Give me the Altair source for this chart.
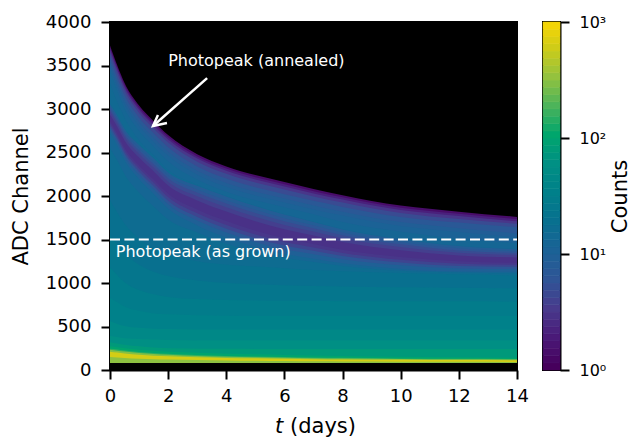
import altair as alt
import pandas as pd

T = [0, 0.25, 0.5, 1, 1.5, 2, 3, 4, 5, 6, 7, 8, 10, 12, 14]

# Channel at which each colour band begins, top of the picture downward, per time in T.
BANDS = [
    (1.3, [3730, 3500, 3300, 3040, 2860, 2700, 2480, 2340, 2240, 2160, 2080, 2010, 1890, 1820, 1760]),
    (2.0, [3705, 3475, 3275, 3015, 2835, 2675, 2455, 2315, 2215, 2135, 2055, 1985, 1865, 1795, 1735]),
    (3.0, [3680, 3450, 3250, 2990, 2810, 2650, 2430, 2290, 2190, 2110, 2030, 1960, 1840, 1770, 1710]),
    (4.5, [3645, 3415, 3215, 2955, 2775, 2615, 2395, 2255, 2155, 2075, 1995, 1925, 1805, 1735, 1680]),
    (6.5, [3590, 3360, 3160, 2900, 2720, 2560, 2340, 2200, 2100, 2020, 1945, 1875, 1760, 1695, 1640]),
    (8.5, [3540, 3310, 3110, 2850, 2670, 2510, 2290, 2150, 2050, 1970, 1890, 1820, 1700, 1630, 1570]),
    (10.0, [3495, 3265, 3065, 2805, 2625, 2465, 2245, 2105, 2005, 1925, 1845, 1775, 1655, 1585, 1525]),
    (12.0, [3440, 3210, 3010, 2750, 2570, 2400, 2190, 2050, 1950, 1870, 1790, 1700, 1590, 1510, 1460]),
    (13.5, [3300, 3080, 2900, 2640, 2470, 2300, 2130, 2000, 1890, 1790, 1705, 1620, 1505, 1427, 1390]),
    (8.0, [3055, 2923, 2771, 2586, 2434, 2270, 2117, 1995, 1885, 1787, 1702, 1616, 1503, 1425, 1389]),
    (6.0, [3025, 2891, 2738, 2550, 2396, 2235, 2075, 1951, 1841, 1745, 1663, 1580, 1471, 1398, 1365]),
    (4.5, [3000, 2865, 2710, 2520, 2365, 2205, 2040, 1915, 1805, 1710, 1630, 1550, 1445, 1375, 1345]),
    (3.5, [2970, 2834, 2677, 2484, 2328, 2165, 1998, 1872, 1762, 1668, 1591, 1514, 1414, 1348, 1321]),
    (2.7, [2935, 2797, 2639, 2442, 2284, 2120, 1949, 1821, 1711, 1619, 1546, 1472, 1377, 1317, 1293]),
    (3.0, [2860, 2718, 2556, 2352, 2190, 2025, 1844, 1712, 1602, 1514, 1448, 1382, 1298, 1249, 1233]),
    (4.0, [2830, 2686, 2523, 2316, 2152, 1985, 1802, 1668, 1558, 1472, 1409, 1346, 1266, 1222, 1209]),
    (6.0, [2800, 2655, 2490, 2280, 2115, 1945, 1760, 1625, 1515, 1430, 1370, 1310, 1235, 1195, 1185]),
    (9.0, [2770, 2623, 2457, 2244, 2077, 1905, 1718, 1581, 1471, 1388, 1331, 1274, 1203, 1168, 1161]),
    (12.0, [2730, 2581, 2413, 2196, 2027, 1855, 1662, 1523, 1413, 1332, 1279, 1226, 1161, 1132, 1129]),
    (15.0, [2550, 2410, 2250, 2040, 1880, 1730, 1580, 1450, 1360, 1290, 1240, 1195, 1140, 1120, 1110]),
    (18.0, [1950, 1810, 1680, 1510, 1400, 1330, 1250, 1210, 1190, 1170, 1150, 1135, 1115, 1100, 1085]),
    (22.0, [1550, 1440, 1340, 1210, 1130, 1080, 1030, 1000, 985, 975, 965, 960, 950, 945, 940]),
    (27.0, [1180, 1090, 1010, 920, 870, 840, 815, 805, 800, 795, 795, 790, 790, 790, 785]),
    (33.0, [830, 780, 730, 680, 650, 640, 630, 625, 620, 620, 620, 620, 620, 620, 620]),
    (42.0, [560, 530, 505, 485, 475, 470, 465, 465, 465, 465, 465, 465, 465, 465, 465]),
    (55.0, [395, 380, 365, 355, 350, 345, 340, 340, 340, 340, 340, 340, 340, 340, 340]),
    (72.0, [320, 305, 290, 272, 258, 250, 245, 243, 241, 240, 240, 240, 240, 240, 240]),
    (95.0, [272, 262, 250, 232, 220, 210, 198, 188, 180, 172, 166, 160, 152, 146, 140]),
    (140.0, [245, 236, 225, 208, 196, 186, 172, 162, 155, 149, 144, 140, 133, 129, 126]),
    (280.0, [232, 222, 212, 195, 184, 174, 160, 152, 146, 141, 136, 132, 127, 123, 120]),
    (600.0, [210, 200, 190, 176, 165, 157, 146, 139, 134, 129, 125, 122, 118, 115, 112]),
    (300.0, [150, 145, 138, 130, 124, 120, 114, 110, 106, 103, 100, 98, 96, 94, 92]),
]
BLACK_ABOVE = 4000
BLACK_BELOW = [80] * 15

RAMP_STOPS = [1, 1.78, 3.16, 5.62, 10, 17.8, 31.6, 56.2, 100, 178, 316, 562, 1000]
RAMP_COLORS = ["#46005c", "#4a1a78", "#483a8c", "#2f5596", "#1b6296", "#08708f", "#00808a",
               "#009084", "#00a66c", "#4db45a", "#94c23e", "#cfcc18", "#ffd800"]
COLORBAR_LEVELS = [1, 1.15, 1.33, 1.54, 1.78, 2.05, 2.37, 2.74, 3.16, 3.65, 4.22, 4.87, 5.62, 6.49, 7.5, 8.66,
                   10, 11.5, 13.3, 15.4, 17.8, 20.5, 23.7, 27.4, 31.6, 36.5, 42.2, 48.7, 56.2, 64.9, 75, 86.6,
                   100, 115, 133, 154, 178, 205, 237, 274, 316, 365, 422, 487, 562, 649, 750, 866, 1000]

PW, PH = 407, 348
color_scale = alt.Scale(type="log", domain=RAMP_STOPS, range=RAMP_COLORS, interpolate="rgb")
x_scale = alt.Scale(domain=[0, 14], nice=False)
y_scale = alt.Scale(domain=[0, 4000], nice=False)

FONT = "DejaVu Sans"
def axis(title, values, **kw):
    return alt.Axis(title=title, values=values, grid=False, domainColor="black", domainWidth=2,
                    tickColor="black", tickWidth=2, tickSize=9, labelFontSize=18, titleFontSize=21,
                    labelColor="black", titleColor="black", labelFont=FONT, titleFont=FONT,
                    titleFontWeight="normal", labelFlush=False, **kw)

rows = []
for i, (count, edge) in enumerate(BANDS):
    for t, c in zip(T, edge):
        rows.append({"t": t, "top": c, "base": 0, "count": count, "band": i})
bands = pd.DataFrame(rows)

background = alt.Chart(pd.DataFrame({"t": [0], "t2": [14], "c": [0], "c2": [BLACK_ABOVE]})).mark_rect(color="black").encode(
    x=alt.X("t:Q", scale=x_scale, axis=axis(None, [0, 2, 4, 6, 8, 10, 12, 14], format="d", labelPadding=8)),
    x2="t2:Q",
    y=alt.Y("c:Q", scale=y_scale, axis=axis("ADC Channel", [0, 500, 1000, 1500, 2000, 2500, 3000, 3500, 4000],
                                            titlePadding=14, format="d", labelPadding=10)),
    y2="c2:Q",
)

layers = [background]
for i, (count, edge) in enumerate(BANDS):
    layers.append(
        alt.Chart(bands[bands.band == i]).mark_area(interpolate="monotone", clip=True).encode(
            x=alt.X("t:Q", scale=x_scale),
            y=alt.Y("top:Q", scale=y_scale),
            y2="base:Q",
            color=alt.Color("count:Q", scale=color_scale, legend=None),
        )
    )

low_black = pd.DataFrame({"t": T, "top": BLACK_BELOW, "base": [0] * len(T)})
layers.append(alt.Chart(low_black).mark_area(color="black").encode(
    x=alt.X("t:Q", scale=x_scale), y=alt.Y("top:Q", scale=y_scale), y2="base:Q"))

peak_line = alt.Chart(pd.DataFrame({"t": [0], "t2": [14], "c": [1500]})).mark_rule(
    color="white", strokeWidth=2, strokeDash=[10, 4.4]).encode(
    x=alt.X("t:Q", scale=x_scale), x2="t2:Q", y=alt.Y("c:Q", scale=y_scale))
layers.append(peak_line)

labels = pd.DataFrame({"t": [2, 0.2], "c": [3550, 1356], "s": ["Photopeak (annealed)", "Photopeak (as grown)"]})
layers.append(alt.Chart(labels).mark_text(color="white", align="left", baseline="middle", font=FONT, fontSize=16).encode(
    x=alt.X("t:Q", scale=x_scale), y=alt.Y("c:Q", scale=y_scale), text="s:N"))

arrow_shaft = alt.Chart(pd.DataFrame({"t": [3.34, 1.48], "c": [3355, 2804]})).mark_line(color="white", strokeWidth=2.5).encode(
    x=alt.X("t:Q", scale=x_scale), y=alt.Y("c:Q", scale=y_scale), order=alt.Order("t:Q"))
layers.append(arrow_shaft)
arrow_head = alt.Chart(pd.DataFrame({"t": [1.65, 1.48, 1.96], "c": [2930, 2804, 2838], "o": [0, 1, 2]})).mark_line(color="white", strokeWidth=2.5).encode(
    x=alt.X("t:Q", scale=x_scale), y=alt.Y("c:Q", scale=y_scale), order=alt.Order("o:Q"))
layers.append(arrow_head)

x_title_t = alt.Chart(pd.DataFrame({"s": ["t"]})).mark_text(
    font=FONT, fontSize=21, fontStyle="italic", color="black", align="left", baseline="alphabetic").encode(
    x=alt.value(165), y=alt.value(411), text="s:N")
x_title_rest = alt.Chart(pd.DataFrame({"s": ["(days)"]})).mark_text(
    font=FONT, fontSize=21, color="black", align="left", baseline="alphabetic").encode(
    x=alt.value(180), y=alt.value(411), text="s:N")
layers += [x_title_t, x_title_rest]

main = alt.layer(*layers).properties(width=PW, height=PH)

cb = pd.DataFrame({"lo": COLORBAR_LEVELS[:-1], "hi": COLORBAR_LEVELS[1:], "v": COLORBAR_LEVELS[:-1]})
colorbar = alt.Chart(cb).mark_rect(strokeWidth=0.6).encode(
    y=alt.Y("lo:Q", scale=alt.Scale(type="log", domain=[1, 1000], nice=False),
            axis=alt.Axis(orient="right", title="Counts", values=[1, 10, 100, 1000],
                          labelExpr="{'1':'10⁰','10':'10¹','100':'10²','1000':'10³'}[datum.value]",
                          grid=False, domainColor="black", domainWidth=2, tickColor="black", tickWidth=2, tickSize=9,
                          labelFontSize=16, titleFontSize=21, labelFont=FONT, titleFont=FONT, titleFontWeight="normal",
                          labelColor="black", titleColor="black", titlePadding=25, labelPadding=10, titleAngle=270)),
    y2="hi:Q",
    color=alt.Color("v:Q", scale=color_scale, legend=None),
    stroke=alt.Stroke("v:Q", scale=color_scale, legend=None),
).properties(width=17, height=PH)

chart = alt.hconcat(main, colorbar, spacing=11).resolve_scale(color="independent", stroke="independent").configure_view(
    stroke="black", strokeWidth=2).properties(padding={"left": 1, "top": 4, "right": -3, "bottom": 0}, background="white")

chart.save("out.html", embed_options={"renderer": "svg", "actions": False})
